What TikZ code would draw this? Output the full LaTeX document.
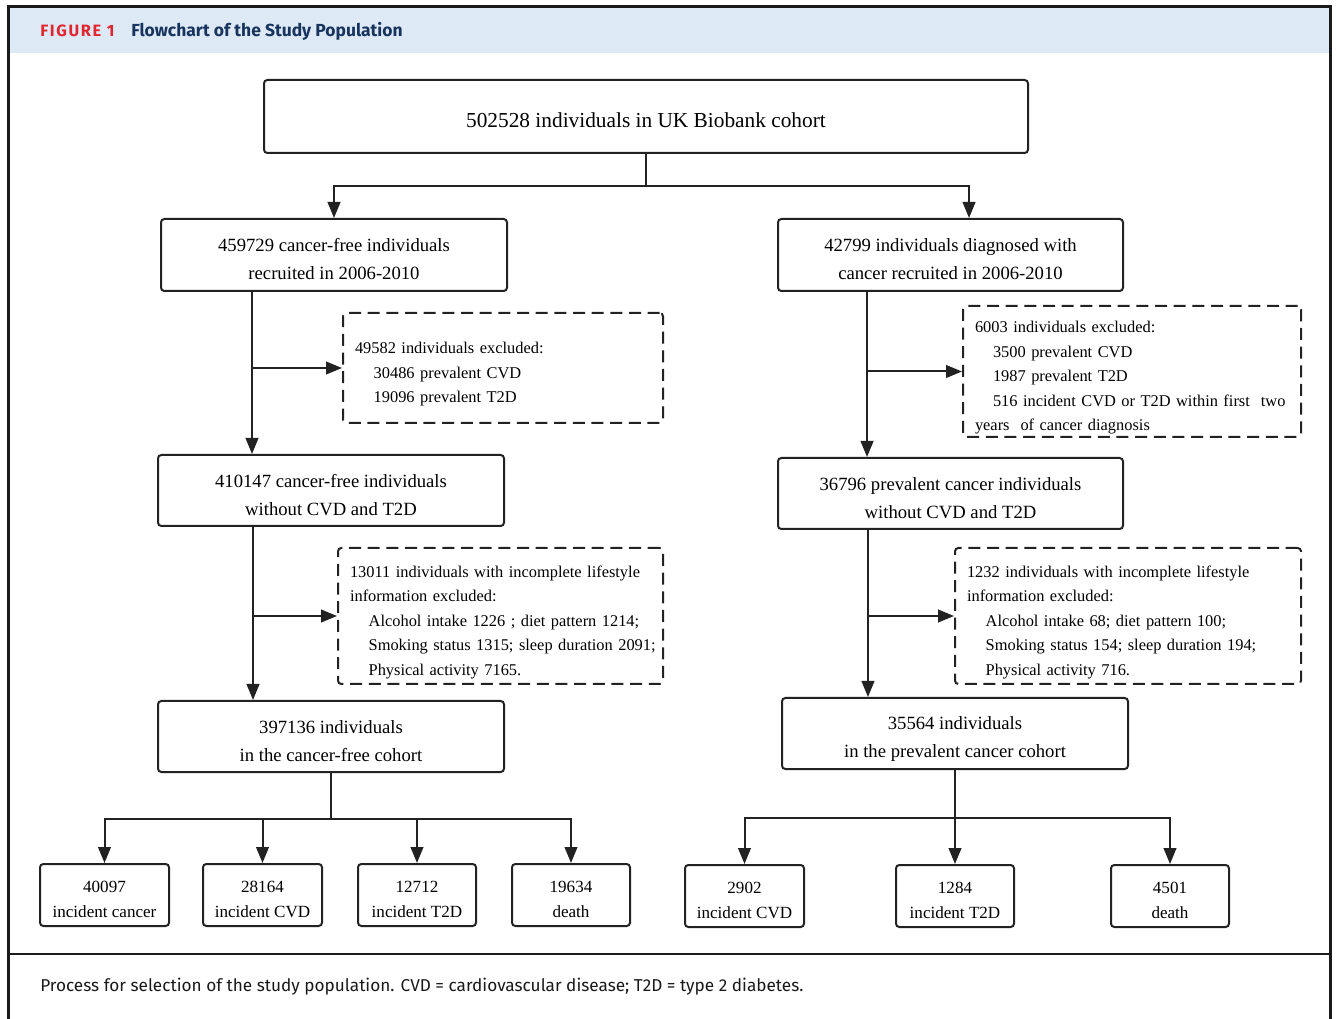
\documentclass[tikz,border=0pt]{standalone}
\usepackage{fontspec}
\setmainfont{Liberation Serif}
\newfontfamily\hdfont{Fira Sans}
\usetikzlibrary{arrows.meta}
\definecolor{ink}{HTML}{222222}
\definecolor{frameink}{HTML}{1A1A1A}
\definecolor{band}{HTML}{DDE9F5}
\definecolor{figred}{HTML}{E1262F}
\definecolor{navy}{HTML}{17345F}
\newcommand{\topfont}{\fontsize{16}{20}\selectfont}
\newcommand{\boxfont}{\fontsize{14}{21}\selectfont}
\newcommand{\exfont}{\fontsize{12.3}{18.4}\selectfont}
\newcommand{\smfont}{\fontsize{12.8}{18.75}\selectfont}
% invisible struts that lower the text block inside its box
\newcommand{\tstrut}{\rule{0pt}{17pt}}
\newcommand{\bstrut}{\rule{0pt}{16.4pt}}
\newcommand{\estrut}{\rule{0pt}{18pt}}
\newcommand{\sstrut}{\rule{0pt}{14.9pt}}
\tikzset{
  box/.style={draw=ink, line width=1.5pt, rounded corners=2.5pt, inner sep=0pt, align=center, fill=white},
  exbox/.style={draw=ink, line width=1.5pt, dash pattern=on 9pt off 5pt, rounded corners=2.5pt, inner xsep=9pt, inner ysep=0pt, align=left, font=\exfont},
  conn/.style={draw=ink, line width=1.5pt},
  arr/.style={conn, -{Triangle[length=12pt,width=9.5pt]}},
  frame/.style={draw=frameink, line width=1.6pt}
}
\begin{document}
\begin{tikzpicture}[x=0.75pt,y=-0.75pt]
\useasboundingbox (0,0) rectangle (1336,1019);
% frame and header
\fill[band] (9,7) rectangle (1330,53);
\draw[frame] (8.5,1019) -- (8.5,6.5) -- (1330.5,6.5) -- (1330.5,1019);
\draw[frame] (8.5,954) -- (1330.5,954);
\node[anchor=base west, inner sep=0pt, text=figred, font=\hdfont\bfseries\addfontfeatures{LetterSpace=10}\fontsize{12.3}{14}\selectfont] (fig) at (40,37) {FIGURE 1};
\node[anchor=base west, inner sep=0pt, text=navy, font=\hdfont\bfseries\fontsize{13.1}{15}\selectfont] (ttl) at (131,37) {Flowchart of the Study Population};
\node[anchor=base west, inner sep=0pt, text=black!90, font=\hdfont\fontsize{12.9}{15}\selectfont] (cap) at (40,991) {Process for selection of the study population. CVD = cardiovascular disease; T2D = type 2 diabetes.};

% main boxes
\node[box, minimum width=573pt, minimum height=54.75pt, font=\topfont] (top) at (646,116.5) {\tstrut502528 individuals in UK Biobank cohort};
\node[box, minimum width=259.5pt, minimum height=54pt, font=\boxfont] (L1) at (334,255) {\bstrut459729 cancer-free individuals\\recruited in 2006-2010};
\node[box, minimum width=258.75pt, minimum height=54pt, font=\boxfont] (R1) at (950.5,255) {\bstrut42799 individuals diagnosed with\\cancer recruited in 2006-2010};
\node[box, minimum width=259.5pt, minimum height=53.25pt, font=\boxfont] (L2) at (331,490.5) {\bstrut410147 cancer-free individuals\\without CVD and T2D};
\node[box, minimum width=258.75pt, minimum height=53.25pt, font=\boxfont] (R2) at (950.5,493.5) {\bstrut36796 prevalent cancer individuals\\without CVD and T2D};
\node[box, minimum width=259.5pt, minimum height=53.25pt, font=\boxfont] (L3) at (331,736.5) {\bstrut397136 individuals\\in the cancer-free cohort};
\node[box, minimum width=259.5pt, minimum height=53.25pt, font=\boxfont] (R3) at (955,733.5) {\rule{0pt}{18pt}35564 individuals\\in the prevalent cancer cohort};

% exclusion boxes
\node[exbox, text width=222pt, minimum height=82.5pt] (LE1) at (503,368) {\mbox{\estrut49582 individuals excluded:}\\\mbox{\hspace*{14pt}30486 prevalent CVD}\\\mbox{\hspace*{14pt}19096 prevalent T2D}};
\node[exbox, text width=235.5pt, minimum height=98.25pt] (RE1) at (1132,371.5) {\mbox{\estrut6003 individuals excluded:}\\\mbox{\hspace*{13.5pt}3500 prevalent CVD}\\\mbox{\hspace*{13.5pt}1987 prevalent T2D}\\\mbox{\hspace*{13.5pt}516 incident CVD or T2D within first\ \ two}\\\mbox{years\ \ of cancer diagnosis}};
\node[exbox, text width=225.75pt, minimum height=102pt] (LE2) at (500.5,616) {\mbox{\estrut13011 individuals with incomplete lifestyle}\\\mbox{information excluded:}\\\mbox{\hspace*{14pt}Alcohol intake 1226 ; diet pattern 1214;}\\\mbox{\hspace*{14pt}Smoking status 1315; sleep duration 2091;}\\\mbox{\hspace*{14pt}Physical activity 7165.}};
\node[exbox, text width=241.5pt, minimum height=102pt] (RE2) at (1128,616) {\mbox{\estrut1232 individuals with incomplete lifestyle}\\\mbox{information excluded:}\\\mbox{\hspace*{14pt}Alcohol intake 68; diet pattern 100;}\\\mbox{\hspace*{14pt}Smoking status 154; sleep duration 194;}\\\mbox{\hspace*{14pt}Physical activity 716.}};

% outcome boxes
\node[box, minimum width=96.75pt, minimum height=46.5pt, font=\smfont] (B1) at (104.5,895) {\sstrut40097\\incident cancer};
\node[box, minimum width=89.25pt, minimum height=46.5pt, font=\smfont] (B2) at (262.5,895) {\sstrut28164\\incident CVD};
\node[box, minimum width=88.5pt, minimum height=46.5pt, font=\smfont] (B3) at (417,895) {\sstrut12712\\incident T2D};
\node[box, minimum width=88.5pt, minimum height=46.5pt, font=\smfont] (B4) at (571,895) {\sstrut19634\\death};
\node[box, minimum width=89.25pt, minimum height=46.5pt, font=\smfont] (C1) at (744.5,896) {\sstrut2902\\incident CVD};
\node[box, minimum width=88.5pt, minimum height=46.5pt, font=\smfont] (C2) at (955,896) {\sstrut1284\\incident T2D};
\node[box, minimum width=88.5pt, minimum height=46.5pt, font=\smfont] (C3) at (1170,896) {\sstrut4501\\death};

% connectors: top split
\coordinate (j0) at ([yshift=-24pt]top.south);
\draw[conn] (top.south) -- (j0);
\draw[arr] (j0) -| (L1.north);
\draw[arr] (j0) -| ([xshift=13.9pt]R1.north);

% left column
\coordinate (t1) at ([xshift=-61.5pt]L1.south);
\draw[arr] (t1) -- (t1 |- L2.north);
\draw[arr] (t1 |- LE1.west) -- (LE1.west);
\coordinate (t3) at ([xshift=-58.5pt]L2.south);
\draw[arr] (t3) -- (t3 |- L3.north);
\draw[arr] (t3 |- LE2.west) -- (LE2.west);

% right column
\coordinate (t2) at ([xshift=-62.6pt]R1.south);
\draw[arr] (t2) -- (t2 |- R2.north);
\draw[arr] (t2 |- RE1.west) -- (RE1.west);
\coordinate (t4) at ([xshift=-61.9pt]R2.south);
\draw[arr] (t4) -- (t4 |- R3.north);
\draw[arr] (t4 |- RE2.west) -- (RE2.west);

% outcomes
\coordinate (j3) at ([yshift=-34.5pt]L3.south);
\draw[conn] (L3.south) -- (j3);
\draw[arr] (j3) -| (B1.north);
\draw[arr] (j3) -| (B2.north);
\draw[arr] (j3) -| (B3.north);
\draw[arr] (j3) -| (B4.north);
\coordinate (j4) at ([yshift=-36pt]R3.south);
\draw[conn] (R3.south) -- (j4);
\draw[arr] (j4) -| (C1.north);
\draw[arr] (j4) -- (C2.north);
\draw[arr] (j4) -| (C3.north);
\end{tikzpicture}
\end{document}
